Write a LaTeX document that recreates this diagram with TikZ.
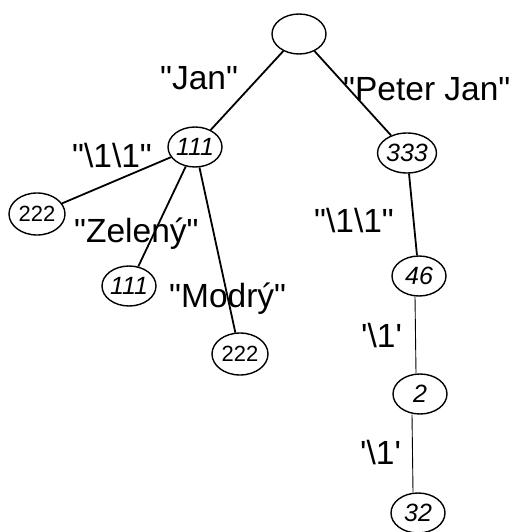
\documentclass[tikz,border=0pt]{standalone}
\usepackage{fontspec}
\setmainfont{Liberation Sans}
\usetikzlibrary{shapes.geometric}
\newcommand{\dq}{\textquotedbl}
\newcommand{\sq}{\textquotesingle}
\newcommand{\bs}{\textbackslash}
\begin{document}
\begin{tikzpicture}[x=1pt,y=-1pt,
  state/.style={draw,ellipse,line width=1.4pt,minimum width=54pt,minimum height=40pt,inner sep=0pt,font=\fontsize{25}{27}\selectfont\itshape},
  plain/.style={state,minimum width=56pt,minimum height=42pt,font=\fontsize{22}{24}\selectfont},
  lbl/.style={anchor=base west,inner sep=0pt,font=\fontsize{33.5}{36}\selectfont},
  heavy/.style={line width=1.8pt},
  light/.style={line width=0.9pt}]
\useasboundingbox (0,0) rectangle (515,532);
% tree nodes
\node[state] (root) at (299,34) {};
\node[state] (a) at (195,147) {111};
\node[state] (b) at (407,153) {333};
\node[plain] (a1) at (37,214) {222};
\node[state] (a2) at (129,286) {111};
\node[plain] (a3) at (240,354) {222};
\node[state] (b1) at (419,276) {46};
\node[state] (b2) at (420,394) {2};
\node[state] (b3) at (418,513) {32};
% edges
\draw[heavy] (root) -- (a);
\draw[heavy] (root) -- (b);
\draw[heavy] (a) -- (a1);
\draw[heavy] (a) -- (a2);
\draw[heavy] (a) -- (a3);
\draw[heavy] (b) -- (b1);
\draw[light] ([xshift=-4pt]b1.south) -- ([xshift=-4pt]b2.north);
\draw[light] ([xshift=-8pt]b2.south) -- ([xshift=-5pt]b3.north);
% edge labels
\node[lbl] (l1) at (160,90) {\dq Jan\dq};
\node[lbl] (l2) at (343,101) {\dq Peter Jan\dq};
\node[lbl] (l3) at (72,167) {\dq\bs 1\bs 1\dq};
\node[lbl] (l4) at (74,242) {\dq Zelený\dq};
\node[lbl] (l5) at (169,307) {\dq Modrý\dq};
\node[lbl] (l6) at (314,232) {\dq\bs 1\bs 1\dq};
\node[lbl] (l7) at (361,347) {\sq\bs 1\sq};
\node[lbl] (l8) at (360,464) {\sq\bs 1\sq};
\end{tikzpicture}
\end{document}
